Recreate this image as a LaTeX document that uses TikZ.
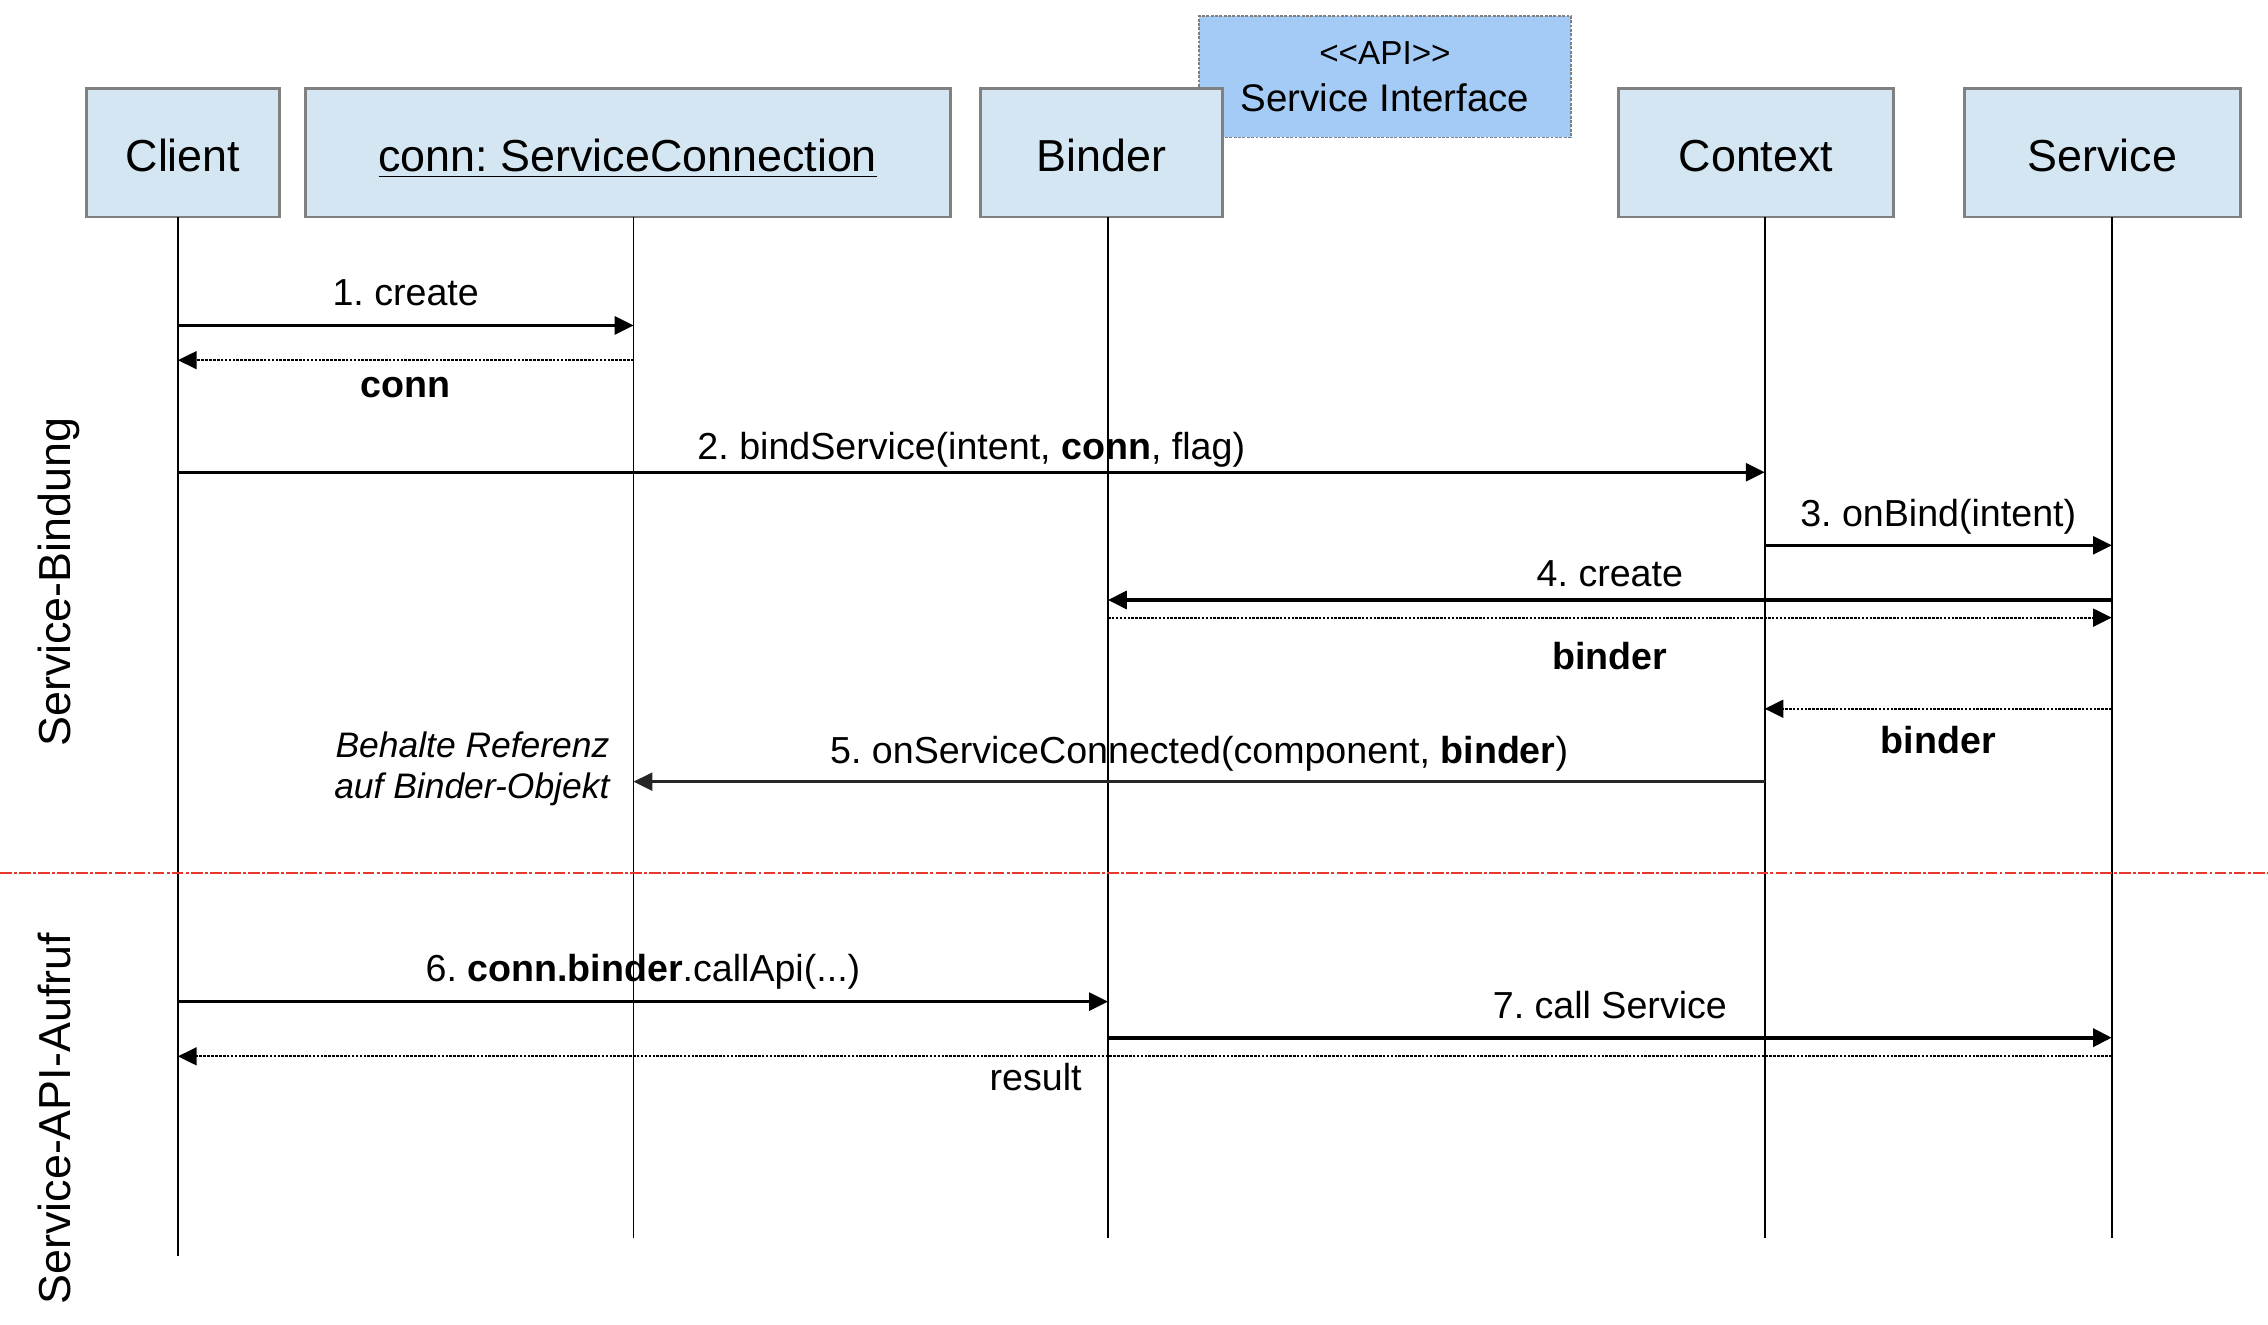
\documentclass[tikz,border=0pt]{standalone}
\usepackage{fontspec}
\setmainfont{Liberation Sans}
\usepackage{tikz}
\usetikzlibrary{arrows.meta, positioning}
\frenchspacing

\definecolor{boxfill}{HTML}{D4E6F1}
\definecolor{boxline}{HTML}{808080}
\definecolor{apifill}{HTML}{A3CBF5}
\definecolor{sepred}{HTML}{E8372B}

\tikzset{
    lifebox/.style={draw=boxline, fill=boxfill, line width=1pt, minimum height=44.5pt, inner sep=0pt, text height=13.2pt, text depth=0pt, font=\fontsize{15.5}{18}\selectfont},
    lifeline/.style={line width=0.6pt},
    call/.style={line width=0.95pt, -{Triangle[length=6.5pt,width=6.2pt]}},
    reply/.style={line width=0.7pt, dash pattern=on 0.9pt off 0.45pt, -{Triangle[length=6.5pt,width=6.2pt]}},
    msgtext/.style={anchor=base, inner sep=0pt, font=\fontsize{13}{15}\selectfont},
    phase/.style={rotate=90, anchor=base, inner sep=0pt, font=\fontsize{15.5}{18}\selectfont}
}

\begin{document}
\begin{tikzpicture}[x=0.5pt, y=-0.5pt]
    \useasboundingbox (0,0) rectangle (1568,915.4);
    % Schnittstelle hinter dem Binder
    \node[draw=boxline, fill=apifill, line width=0.6pt, dash pattern=on 1pt off 0.5pt, minimum width=128.5pt, minimum height=42pt, inner sep=0pt, align=center, font=\fontsize{13.3}{16.25}\selectfont] (api) at (957.5,53) {{\fontsize{11.5}{14}\selectfont <\kern0pt<API>\kern0pt>}\\Service Interface};
    % Teilnehmer
    \node[lifebox, minimum width=66.5pt] (client) at (126.5,105.5) {Client};
    \node[lifebox, minimum width=223pt] (conn) at (434,105.5) {\underline{conn: ServiceConnection}};
    \node[lifebox, minimum width=83.5pt] (binder) at (761.5,105.5) {Binder};
    \node[lifebox, minimum width=95pt] (context) at (1214,105.5) {Context};
    \node[lifebox, minimum width=95.5pt] (service) at (1453.5,105.5) {Service};
    % Lebenslinien
    \foreach \n/\x/\e in {cl/123/868, co/438/856, bi/766/856, cx/1220/856, sv/1460/856} {
        \coordinate (\n) at (\x,150);
        \draw[lifeline] (\n) -- (\x,\e);
    }
    % Phasen
    \node[phase] (bindung) at (48.4,402.5) {Service-Bindung};
    \node[phase] (aufruf) at (48.4,773.5) {Service-API-Aufruf};
    \draw[sepred, line width=0.8pt, dash pattern=on 4pt off 0.8pt on 1pt off 0.8pt] (0,603.6) coordinate (sepa) -- (1568,603.6) coordinate (sepb);
    % Nachrichten
    \draw[call] (cl |- 0,225) -- (co |- 0,225) node[msgtext, midway, yshift=7pt] {1. create};
    \draw[reply] (co |- 0,249) -- (cl |- 0,249) node[msgtext, midway, yshift=-12.75pt] {\textbf{conn}};
    \draw[call] (cl |- 0,326.5) -- (cx |- 0,326.5) node[msgtext, midway, yshift=4.25pt] {2. bindService(intent, \textbf{conn}, flag)};
    \draw[call] (cx |- 0,377) -- (sv |- 0,377) node[msgtext, midway, yshift=6.5pt] {3. onBind(intent)};
    \draw[call, line width=1.2pt] (sv |- 0,414.8) -- (bi |- 0,414.8) node[msgtext, midway, yshift=4.6pt] {4. create};
    \draw[reply] (bi |- 0,427) -- (sv |- 0,427) node[msgtext, midway, yshift=-18pt] {\textbf{binder}};
    \draw[reply] (sv |- 0,490) -- (cx |- 0,490) node[msgtext, midway, yshift=-15.5pt] {\textbf{binder}};
    \draw[call, line width=0.85pt, black!85] (cx |- 0,540.4) -- (co |- 0,540.4) node[msgtext, midway, yshift=6.3pt, black] {5. onServiceConnected(component, \textbf{binder})};
    \node[anchor=base east, inner sep=0pt, align=right, font=\fontsize{12.25}{14.2}\selectfont\itshape] (note) at (421.7,552) {Behalte Referenz\\auf Binder-Objekt};
    \draw[call] (cl |- 0,692.5) -- (bi |- 0,692.5) node[msgtext, midway, yshift=7pt] {6. \textbf{conn.binder}.callApi(...)};
    \draw[call, line width=1.4pt] (bi |- 0,717.4) -- (sv |- 0,717.4) node[msgtext, midway, yshift=6.7pt] {7. call Service};
    \draw[reply] (sv |- 0,730.3) -- (cl |- 0,730.3) node[msgtext, pos=0.5565, yshift=-11.65pt] {result};
\end{tikzpicture}
\end{document}
